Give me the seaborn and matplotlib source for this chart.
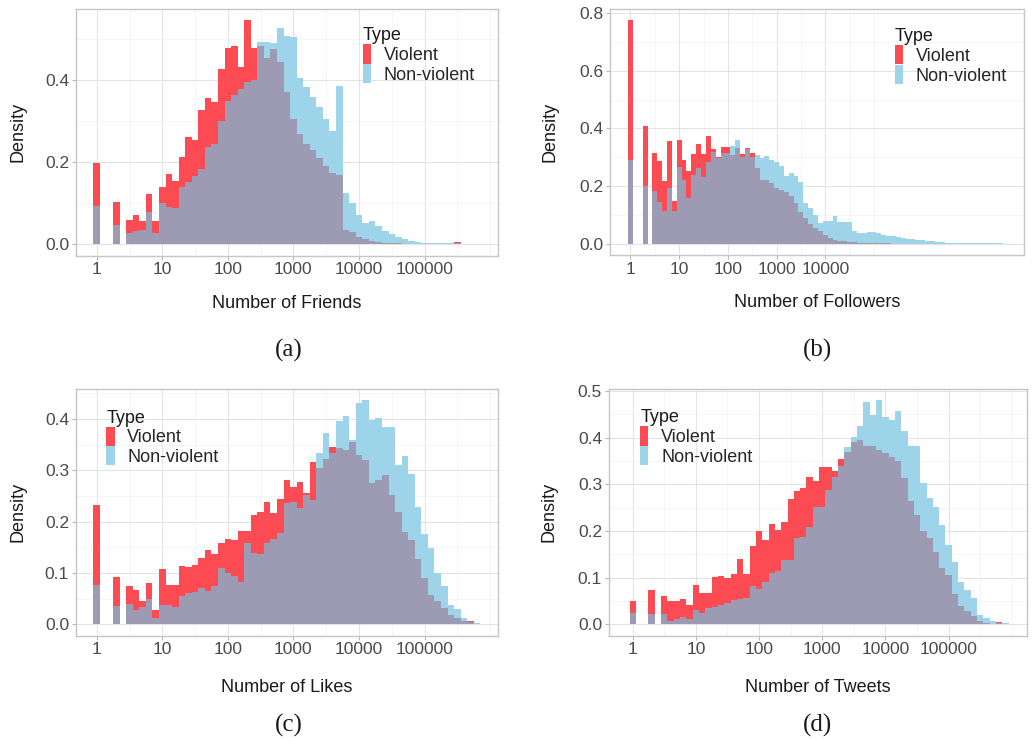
import numpy as np
import matplotlib
matplotlib.use("Agg")
import matplotlib.pyplot as plt
import matplotlib.ticker as mticker
from matplotlib.patches import Patch
import seaborn as sns

# ---------------- data (density per log10 bin of width 0.1, bin k centred at 10**(0.1*k)) -------------
BIN_LOG_WIDTH = 0.1
TYPES = ["Violent", "Non-violent"]

friends_violent = [0.198, 0, 0, 0.103, 0, 0.059, 0.072, 0.057, 0.122, 0.058,
                   0.141, 0.172, 0.154, 0.212, 0.263, 0.255, 0.329, 0.356, 0.348, 0.427,
                   0.480, 0.485, 0.433, 0.547, 0.478, 0.485, 0.454, 0.476, 0.446, 0.372,
                   0.305, 0.270, 0.246, 0.230, 0.210, 0.190, 0.175, 0.170, 0.035, 0.029,
                   0.018, 0.012, 0.008, 0.006, 0.004, 0.003, 0.002, 0.001, 0, 0,
                   0, 0, 0, 0, 0, 0.006, 0, 0, 0]
friends_nonviolent = [0.094, 0, 0, 0.046, 0, 0.027, 0.033, 0.035, 0.079, 0.028,
                      0.102, 0.090, 0.089, 0.139, 0.153, 0.167, 0.185, 0.238, 0.246, 0.302,
                      0.350, 0.364, 0.379, 0.397, 0.402, 0.494, 0.494, 0.492, 0.527, 0.508,
                      0.507, 0.405, 0.384, 0.360, 0.335, 0.305, 0.276, 0.386, 0.124, 0.100,
                      0.072, 0.053, 0.057, 0.045, 0.033, 0.025, 0.019, 0.012, 0.008, 0.006,
                      0.004, 0.004, 0.003, 0.002, 0.002, 0.002, 0.001, 0.001, 0.001]

followers_violent = [0.777, 0, 0, 0.409, 0, 0.316, 0.288, 0.218, 0.357, 0.148,
                     0.359, 0.289, 0.252, 0.311, 0.346, 0.311, 0.375, 0.330, 0.300, 0.337,
                     0.337, 0.308, 0.331, 0.311, 0.333, 0.314, 0.264, 0.221, 0.221, 0.210,
                     0.192, 0.186, 0.180, 0.165, 0.140, 0.110, 0.090, 0.070, 0.055, 0.045,
                     0.030, 0.020, 0.012, 0.010, 0.008, 0.006, 0.005, 0.004, 0.003, 0.003,
                     0.002, 0.002, 0.001, 0.001]
followers_nonviolent = [0.291, 0, 0, 0.200, 0, 0.184, 0.144, 0.115, 0.195, 0.115,
                        0.267, 0.221, 0.157, 0.238, 0.264, 0.230, 0.285, 0.320, 0.298, 0.314,
                        0.316, 0.340, 0.360, 0.300, 0.330, 0.302, 0.308, 0.296, 0.306, 0.291,
                        0.282, 0.271, 0.235, 0.244, 0.235, 0.215, 0.140, 0.124, 0.100, 0.072,
                        0.080, 0.080, 0.096, 0.075, 0.076, 0.076, 0.045, 0.036, 0.036, 0.042,
                        0.040, 0.036, 0.030, 0.028, 0.026, 0.024, 0.020, 0.017, 0.015, 0.013,
                        0.012, 0.009, 0.008, 0.007, 0.006, 0.004, 0.003, 0.003, 0.002, 0.001,
                        0.001, 0.001, 0.001, 0.001, 0.001, 0.001, 0.001]

likes_violent = [0.232, 0, 0, 0.093, 0, 0.075, 0.067, 0.045, 0.081, 0.027,
                 0.107, 0.077, 0.077, 0.114, 0.112, 0.116, 0.129, 0.144, 0.137, 0.158,
                 0.166, 0.164, 0.181, 0.182, 0.212, 0.218, 0.239, 0.216, 0.244, 0.282,
                 0.268, 0.278, 0.255, 0.316, 0.304, 0.322, 0.345, 0.343, 0.340, 0.355,
                 0.330, 0.320, 0.275, 0.282, 0.290, 0.252, 0.219, 0.179, 0.164, 0.128,
                 0.090, 0.058, 0.045, 0.032, 0.018, 0.012, 0.006, 0.006, 0]
likes_nonviolent = [0.077, 0, 0, 0.036, 0, 0.039, 0.028, 0.034, 0.049, 0.013,
                    0.038, 0.038, 0.034, 0.056, 0.060, 0.062, 0.070, 0.064, 0.075, 0.109,
                    0.099, 0.095, 0.082, 0.159, 0.138, 0.136, 0.158, 0.166, 0.177, 0.236,
                    0.239, 0.226, 0.252, 0.243, 0.333, 0.373, 0.333, 0.396, 0.406, 0.360,
                    0.431, 0.437, 0.398, 0.401, 0.385, 0.385, 0.310, 0.327, 0.292, 0.229,
                    0.175, 0.148, 0.099, 0.075, 0.038, 0.030, 0.012, 0.005, 0.002]

tweets_violent = [0.049, 0, 0, 0.074, 0, 0.061, 0.049, 0.050, 0.054, 0.041,
                  0.084, 0.066, 0.066, 0.101, 0.104, 0.100, 0.108, 0.139, 0.107, 0.168,
                  0.200, 0.181, 0.215, 0.201, 0.219, 0.268, 0.286, 0.291, 0.316, 0.306,
                  0.336, 0.336, 0.329, 0.354, 0.370, 0.391, 0.395, 0.381, 0.381, 0.374,
                  0.366, 0.359, 0.350, 0.313, 0.263, 0.234, 0.199, 0.184, 0.155, 0.120,
                  0.105, 0.065, 0.040, 0.028, 0.018, 0.006, 0.003, 0.001, 0.004, 0]
tweets_nonviolent = [0.024, 0, 0, 0.021, 0, 0.023, 0.008, 0.011, 0.015, 0.011,
                     0.030, 0.025, 0.034, 0.036, 0.041, 0.045, 0.051, 0.054, 0.056, 0.083,
                     0.076, 0.090, 0.109, 0.115, 0.138, 0.138, 0.184, 0.188, 0.209, 0.252,
                     0.252, 0.288, 0.316, 0.338, 0.379, 0.402, 0.424, 0.477, 0.449, 0.481,
                     0.445, 0.438, 0.456, 0.413, 0.381, 0.381, 0.302, 0.270, 0.252, 0.213,
                     0.170, 0.134, 0.091, 0.074, 0.056, 0.020, 0.013, 0.006, 0.003, 0.002]

x_labels = ["Number of Friends", "Number of Followers", "Number of Likes", "Number of Tweets"]
captions = ["(a)", "(b)", "(c)", "(d)"]
x_tick_exps = [[0, 1, 2, 3, 4, 5], [0, 1, 2, 3, 4], [0, 1, 2, 3, 4, 5], [0, 1, 2, 3, 4, 5]]
y_ticks = [[0.0, 0.2, 0.4], [0.0, 0.2, 0.4, 0.6, 0.8],
           [0.0, 0.1, 0.2, 0.3, 0.4], [0.0, 0.1, 0.2, 0.3, 0.4, 0.5]]

# ---------------- style ----------------
RED = "#FD4B54"
BLUE = "#9DD4EA"
OVERLAP = "#9D9BB4"

sns.set_theme(style="white")
plt.rcParams["font.family"] = ["Liberation Sans", "DejaVu Sans"]

W, H = 1033, 741
fig = plt.figure(figsize=(W / 100, H / 100), dpi=100)


def px_rect(x0, x1, y0, y1):
    return [x0 / W, 1 - y1 / H, (x1 - x0) / W, (y1 - y0) / H]


# axes pixel boxes: (left, right, top, bottom) and x-limits in log10 units
panels = [
    dict(box=(76, 498, 9.0, 255.5), xlim=(-0.316, 6.12), legend=(0.68, 0.925), ylab_x=-0.118,
         xlab_y=-0.16, cap=(289, 350)),
    dict(box=(610, 1024, 8.7, 254.9), xlim=(-0.42, 8.08), legend=(0.688, 0.92), ylab_x=-0.125,
         xlab_y=-0.16, cap=(818, 350)),
    dict(box=(76, 498, 388.8, 635.5), xlim=(-0.316, 6.12), legend=(0.072, 0.915), ylab_x=-0.118,
         xlab_y=-0.176, cap=(289, 725)),
    dict(box=(609, 1027, 388.5, 635.5), xlim=(-0.375, 6.24), legend=(0.075, 0.915), ylab_x=-0.123,
         xlab_y=-0.176, cap=(818, 725)),
]
series = [(friends_violent, friends_nonviolent), (followers_violent, followers_nonviolent),
          (likes_violent, likes_nonviolent), (tweets_violent, tweets_nonviolent)]

for i, p in enumerate(panels):
    viol, nonv = series[i]
    n = max(len(viol), len(nonv))
    v = np.zeros(n); v[:len(viol)] = viol
    nv = np.zeros(n); nv[:len(nonv)] = nonv
    centers = 10 ** (np.arange(n) * BIN_LOG_WIDTH)
    brange = (-BIN_LOG_WIDTH / 2, (n - 1) * BIN_LOG_WIDTH + BIN_LOG_WIDTH / 2)

    x0, x1, y0, y1 = p["box"]
    ax = fig.add_axes(px_rect(x0, x1, y0, y1))
    common = dict(x=centers, binwidth=BIN_LOG_WIDTH, binrange=brange, log_scale=True,
                  ax=ax, stat="count", element="bars", linewidth=0, alpha=1)
    sns.histplot(weights=v, color=RED, **common)
    sns.histplot(weights=nv, color=BLUE, **common)
    sns.histplot(weights=np.minimum(v, nv), color=OVERLAP, **common)

    ymax = max(v.max(), nv.max())
    ax.set_ylim(-0.05 * ymax, 1.05 * ymax)
    ax.set_xlim(10 ** p["xlim"][0], 10 ** p["xlim"][1])

    exps = x_tick_exps[i]
    ax.xaxis.set_major_locator(mticker.FixedLocator([10.0 ** e for e in exps]))
    ax.xaxis.set_major_formatter(mticker.FixedFormatter([str(10 ** e) for e in exps]))
    minors = [10.0 ** (e + 0.5) for e in range(-1, exps[-1] + 1)] + [10.0 ** (exps[-1] + 1)]
    ax.xaxis.set_minor_locator(mticker.FixedLocator(minors))
    ax.xaxis.set_minor_formatter(mticker.NullFormatter())

    yt = y_ticks[i]
    ax.yaxis.set_major_locator(mticker.FixedLocator(yt))
    ax.yaxis.set_major_formatter(mticker.FormatStrFormatter("%.1f"))
    step = yt[1] - yt[0]
    ax.yaxis.set_minor_locator(mticker.FixedLocator([t + step / 2 for t in yt]))

    ax.set_axisbelow(True)
    ax.grid(True, which="major", color="#E4E4E4", linewidth=0.8)
    ax.grid(True, which="minor", color="#F1F1F1", linewidth=0.5)
    for s in ax.spines.values():
        s.set_color("#C6C6C6")
        s.set_linewidth(1.0)
    ax.tick_params(which="major", length=3, width=0.8, color="#B8B8B8", pad=2,
                   labelsize=12.5, labelcolor="#4A4A4A", bottom=True, left=True)
    ax.tick_params(which="minor", length=0)

    ax.set_xlabel(x_labels[i], fontsize=13, color="#1A1A1A")
    ax.set_ylabel("Density", fontsize=13, color="#1A1A1A")
    ax.xaxis.set_label_coords(0.5, p["xlab_y"])
    ax.yaxis.set_label_coords(p["ylab_x"], 0.5)

    handles = [Patch(facecolor=RED, edgecolor="none"), Patch(facecolor=BLUE, edgecolor="none")]
    leg = ax.legend(handles, TYPES, title="Type", loc="upper left", bbox_to_anchor=p["legend"],
                    frameon=False, fontsize=13, title_fontsize=13, handlelength=0.45,
                    handleheight=1.25, labelspacing=0.0, handletextpad=0.7, borderpad=0,
                    borderaxespad=0)
    leg._legend_box.align = "left"
    leg.get_title().set_color("#1A1A1A")

    fig.text(p["cap"][0] / W, 1 - p["cap"][1] / H, captions[i], ha="center", va="center",
             fontsize=18, family=["Liberation Serif", "DejaVu Serif"], color="#1A1A1A")

fig.savefig("out.png", dpi=100)
